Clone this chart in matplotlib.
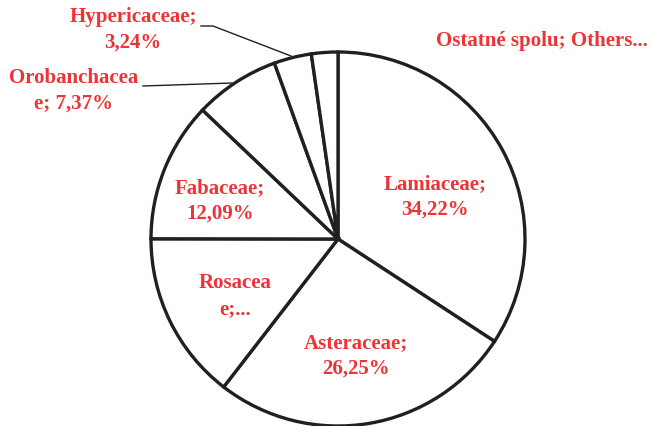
import numpy as np
import matplotlib.pyplot as plt

# --- data ---
families = ["Lamiaceae", "Asteraceae", "Rosaceae", "Fabaceae",
            "Orobanchaceae", "Hypericaceae", "Ostatné spolu; Others"]
shares = [34.22, 26.25, 14.55, 12.09, 7.37, 3.24, 2.28]
# label text as it appears on the chart (wrapped / truncated)
label_text = ["Lamiaceae;\n34,22%", "Asteraceae;\n26,25%", "Rosacea\ne;...",
              "Fabaceae;\n12,09%", "Orobanchacea\ne; 7,37%",
              "Hypericaceae;\n3,24%", "Ostatné spolu; Others..."]

W, H = 653, 427
cx, cy, R = 338, 240, 187   # pie centre and radius in pixels


def px(x, y):
    # pixel coords (top-left origin) -> data coords (pie radius = 1)
    return (x - cx) / R, (cy - y) / R


fig = plt.figure(figsize=(W / 100, H / 100), dpi=100)
ax = fig.add_axes([0, 0, 1, 1])
ax.pie(shares, startangle=90, counterclock=False, radius=1,
       colors=["white"] * len(shares),
       wedgeprops=dict(edgecolor="#231f20", linewidth=2.4))
ax.set_xlim(-cx / R, (W - cx) / R)
ax.set_ylim(-(H - cy) / R, cy / R)
ax.set_aspect("equal")
ax.axis("off")

red = "#ee3338"
font = dict(color=red, fontsize=15, fontweight="bold", family="Liberation Serif",
            ha="center", va="center", linespacing=1.35)

label_pos = [(435, 197), (356, 356), (235, 296), (220, 201),
             (74, 91), (133, 30), (542, 41)]
for txt, (x, y) in zip(label_text, label_pos):
    ax.text(*px(x, y), txt, **font)

# leader lines for the small slices
line_kw = dict(color="#231f20", linewidth=1.0)
hx, hy = zip(px(201, 27), px(213, 27), px(291, 57))
ax.plot(hx, hy, **line_kw)
ox, oy = zip(px(143, 87), px(232, 84))
ax.plot(ox, oy, **line_kw)

fig.savefig("out.png", dpi=100)
